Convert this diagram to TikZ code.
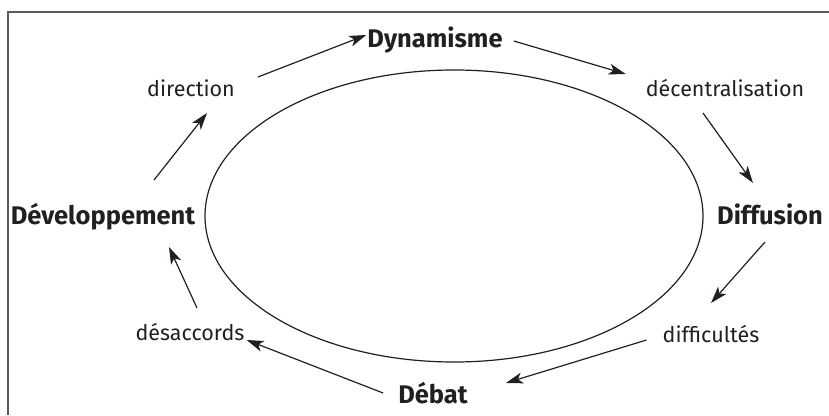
\documentclass[tikz,border=0pt]{standalone}
\usepackage{fontspec}
\setmainfont{Fira Sans}
\usepackage{tikz}
\usepackage{xcolor}
\usetikzlibrary{arrows.meta}
\definecolor{ink}{HTML}{231F20}
\definecolor{framegray}{HTML}{5A5A5A}

\begin{document}
\begin{tikzpicture}[x=1pt, y=1pt,
    stage/.style={inner sep=0pt, anchor=base, text=ink, font=\fontsize{25.5}{30}\selectfont\bfseries},
    phase/.style={inner sep=0pt, anchor=base, text=ink, font=\fontsize{21.5}{26}\selectfont},
    arr/.style={draw=ink, line width=1.2pt, -{Stealth[length=17pt, width=11pt, inset=4.5pt]}}]
    \useasboundingbox (0,0) rectangle (829,415);
    \draw[framegray, line width=2pt] (829,403) -- (8,403) -- (8,0);
    \draw[ink, line width=1.2pt] (454,199) ellipse [x radius=249pt, y radius=146pt];
    \node[stage] (dyn) at (435,367) {Dynamisme};
    \node[phase] (dir) at (191,318) {direction};
    \node[phase] (dec) at (725,318) {décentralisation};
    \node[stage] (dev) at (103,190) {Développement};
    \node[stage] (dif) at (770,190) {Diffusion};
    \node[phase] (dfc) at (711,73) {difficultés};
    \node[phase] (des) at (190,75) {désaccords};
    \node[stage] (deb) at (433,12) {Débat};
    \draw[arr] ([shift={(23,20)}]dir.base east) -- ([shift={(-1,13)}]dyn.base west);
    \draw[arr] ([shift={(11,7)}]dyn.base east) -- ([shift={(-20,23)}]dec.base west);
    \draw[arr] ([shift={(-22,-16)}]dec.base) -- ([shift={(-17,42)}]dif.base);
    \draw[arr] ([shift={(-5,-17)}]dif.base) -- ([shift={(0,39)}]dfc.base);
    \draw[arr] ([shift={(-16,2)}]dfc.base west) -- ([shift={(38,20)}]deb.base east);
    \draw[arr] ([shift={(-15,10)}]deb.base west) -- ([shift={(2,0)}]des.base east);
    \draw[arr] ([shift={(7,32)}]des.base) -- ([shift={(66,-22)}]dev.base);
    \draw[arr] ([shift={(51,45)}]dev.base) -- ([shift={(16,-16)}]dir.base);
\end{tikzpicture}
\end{document}
